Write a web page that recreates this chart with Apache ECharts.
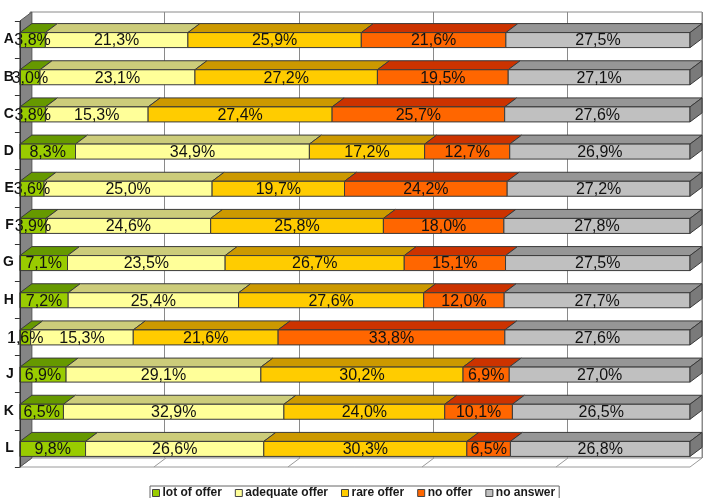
<!DOCTYPE html>
<html>
<head>
<meta charset="utf-8">
<style>
  html, body { margin: 0; padding: 0; background: #fff; }
  #chart { width: 705px; height: 498px; }
</style>
<script src="https://cdn.jsdelivr.net/npm/echarts@6/dist/echarts.min.js"></script>
</head>
<body>
<div id="chart"></div>
<script>
const categories = ['A', 'B', 'C', 'D', 'E', 'F', 'G', 'H', 'I', 'J', 'K', 'L'];
const lotOfOffer = [3.8, 3.0, 3.8, 8.3, 3.6, 3.9, 7.1, 7.2, 1.6, 6.9, 6.5, 9.8];
const adequateOffer = [21.3, 23.1, 15.3, 34.9, 25.0, 24.6, 23.5, 25.4, 15.3, 29.1, 32.9, 26.6];
const rareOffer = [25.9, 27.2, 27.4, 17.2, 19.7, 25.8, 26.7, 27.6, 21.6, 30.2, 24.0, 30.3];
const noOffer = [21.6, 19.5, 25.7, 12.7, 24.2, 18.0, 15.1, 12.0, 33.8, 6.9, 10.1, 6.5];
const noAnswer = [27.5, 27.1, 27.6, 26.9, 27.2, 27.8, 27.5, 27.7, 27.6, 27.0, 26.5, 26.8];
const gridTicks = [0, 20, 40, 60, 80, 100];

const seriesList = [
  { name: 'lot of offer', data: lotOfOffer, front: '#99CC00', top: '#669900' },
  { name: 'adequate offer', data: adequateOffer, front: '#FFFF99', top: '#CCCC7A' },
  { name: 'rare offer', data: rareOffer, front: '#FFCC00', top: '#CC9900' },
  { name: 'no offer', data: noOffer, front: '#FF6600', top: '#CC3300' },
  { name: 'no answer', data: noAnswer, front: '#C0C0C0', top: '#969696', side: '#7A7A7A' }
];

// 3D look
const DX = 12, DY = 9, FACE = 15;
const EDGE = '#3a3a3a';

// 100% stacking: start/end of each segment in percent of the row total
const totals = categories.map((c, i) => seriesList.reduce((s, se) => s + se.data[i], 0));
const stacked = [];
const cum = categories.map(() => 0);
seriesList.forEach(se => {
  stacked.push(se.data.map((v, i) => {
    const start = cum[i] / totals[i] * 100;
    cum[i] += v;
    const end = cum[i] / totals[i] * 100;
    return [i, start, end, v];
  }));
});

const fmt = v => v.toFixed(1).replace('.', ',') + '%';

function barRenderer(se, isLast) {
  return function (params, api) {
    const ci = api.value(0);
    const p0 = api.coord([api.value(1), ci]);
    const p1 = api.coord([api.value(2), ci]);
    const top = p0[1] - 7;
    const x0 = p0[0], x1 = p1[0];
    const children = [
      {
        type: 'polygon',
        shape: { points: [[x0, top], [x0 + DX, top - DY], [x1 + DX, top - DY], [x1, top]] },
        style: { fill: se.top, stroke: EDGE, lineWidth: 1 }
      },
      {
        type: 'rect',
        shape: { x: x0, y: top, width: x1 - x0, height: FACE },
        style: { fill: se.front, stroke: EDGE, lineWidth: 1 }
      }
    ];
    if (isLast) {
      children.push({
        type: 'polygon',
        shape: { points: [[x1, top], [x1 + DX, top - DY], [x1 + DX, top - DY + FACE], [x1, top + FACE]] },
        style: { fill: se.side, stroke: EDGE, lineWidth: 1 }
      });
    }
    children.push({
      type: 'text',
      z2: 100,
      style: {
        x: (x0 + x1) / 2,
        y: top + FACE / 2 + 1,
        text: fmt(api.value(3)),
        align: 'center',
        verticalAlign: 'middle',
        fill: '#111',
        font: '16px "Liberation Sans", Arial, sans-serif'
      }
    });
    return { type: 'group', children: children };
  };
}

// left wall + floor, built from the front plane of the grid
function frameRenderer(params, api) {
  const tl = api.coord([0, 0]);
  const br = api.coord([100, categories.length - 1]);
  const band = api.size([0, 1])[1];
  const L = tl[0], R = br[0];
  const T = tl[1] - band / 2, B = br[1] + band / 2;
  return {
    type: 'group',
    children: [
      {
        type: 'polygon',
        z2: 0,
        shape: { points: [[L, B], [L + DX, B - DY], [R + DX, B - DY], [R, B]] },
        style: { fill: '#ffffff', stroke: '#9a9a9a', lineWidth: 1 }
      },
      {
        type: 'polygon',
        z2: 2,
        shape: { points: [[L, T], [L + DX, T - DY], [L + DX, B - DY], [L, B]] },
        style: { fill: '#858585', stroke: '#555555', lineWidth: 1 }
      }
    ].concat(gridTicks.slice(1, -1).map(t => {
      const x = api.coord([t, 0])[0];
      return {
        type: 'line',
        z2: 1,
        shape: { x1: x, y1: B, x2: x + DX, y2: B - DY },
        style: { stroke: '#9a9a9a', lineWidth: 1 }
      };
    }))
  };
}

const chart = echarts.init(document.getElementById('chart'));

const option = {
  animation: false,
  grid: [
    // front plane
    { left: 18, right: 15, top: 21, bottom: 31 },
    // back wall
    { left: 18 + DX, right: 15 - DX, top: 21 - DY, bottom: 31 + DY, show: true, backgroundColor: '#fff', borderColor: '#8a8a8a', borderWidth: 1, z: -1 }
  ],
  legend: {
    data: seriesList.map(s => s.name),
    left: 150,
    top: 486,
    orient: 'horizontal',
    icon: 'rect',
    itemWidth: 7,
    itemHeight: 7,
    itemGap: 13,
    padding: [1, 4, 1, 2],
    backgroundColor: '#fff',
    borderColor: '#666',
    borderWidth: 1,
    borderRadius: 0,
    itemStyle: { borderColor: '#444', borderWidth: 1 },
    textStyle: { fontSize: 12, fontWeight: 'bold', color: '#1a1a1a', fontFamily: '"Liberation Sans", Arial, sans-serif', padding: [0, 0, 0, -2] }
  },
  xAxis: [
    { gridIndex: 0, type: 'value', min: 0, max: 100, interval: 20, show: false },
    {
      gridIndex: 1, type: 'value', min: 0, max: 100, interval: 20,
      axisLine: { show: false }, axisTick: { show: false }, axisLabel: { show: false },
      splitLine: { show: true, lineStyle: { color: '#8a8a8a', width: 1 } }
    }
  ],
  yAxis: [
    {
      gridIndex: 0, type: 'category', data: categories, inverse: true,
      axisLine: { show: true, lineStyle: { color: '#333', width: 1 } },
      axisTick: { show: true, length: 5, lineStyle: { color: '#333' } },
      axisLabel: { margin: 6, fontSize: 14, fontWeight: 'bold', color: '#111', fontFamily: '"Liberation Sans", Arial, sans-serif' },
      splitLine: { show: false },
      splitArea: { show: false },
      z: 3
    },
    { gridIndex: 1, type: 'category', data: categories, inverse: true, show: false }
  ],
  series: [
    {
      type: 'custom',
      name: 'frame',
      xAxisIndex: 0,
      yAxisIndex: 0,
      data: [[0, 0]],
      encode: { x: 0, y: 1 },
      renderItem: frameRenderer,
      clip: false,
      silent: true,
      z: 1
    }
  ].concat(seriesList.map((se, k) => ({
    type: 'custom',
    name: se.name,
    xAxisIndex: 0,
    yAxisIndex: 0,
    itemStyle: { color: se.front },
    data: stacked[k],
    encode: { x: [1, 2], y: 0 },
    renderItem: barRenderer(se, k === seriesList.length - 1),
    z: 2
  })))
};

chart.setOption(option);
</script>
</body>
</html>
